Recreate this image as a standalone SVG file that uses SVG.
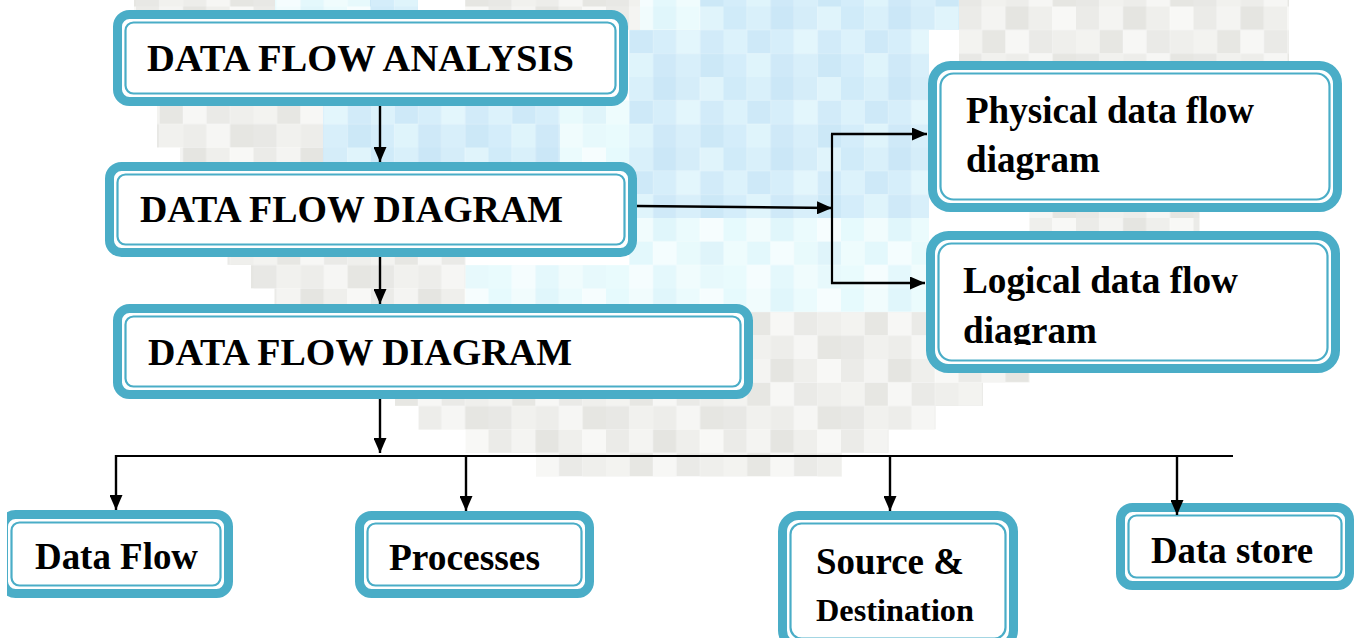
<svg xmlns="http://www.w3.org/2000/svg" width="1357" height="638" viewBox="0 0 1357 638">
<style>
.bg{fill:#ffffff}
.outer{fill:none;stroke:#4aadc7;stroke-width:9}
.inner{fill:none;stroke:#4aadc7;stroke-width:2.2}
.t{font-family:"Liberation Serif","Times New Roman",serif;font-weight:bold;font-size:38px;fill:#000}
.ln{stroke:#000;stroke-width:2.2;fill:none}
.ar{stroke:#000;stroke-width:2.4;fill:none;marker-end:url(#ah)}
</style>
<defs>
<marker id="ah" viewBox="0 0 15 13" markerWidth="15" markerHeight="13" refX="15" refY="6.5" orient="auto" markerUnits="userSpaceOnUse">
<path d="M0,0 L15,6.5 L0,13 z" fill="#000"/>
</marker>
<pattern id="pg" patternUnits="userSpaceOnUse" x="18.5" y="6.5" width="117.5" height="70.5">
<rect x="0" y="0" width="23.5" height="23.5" fill="#ebebe8"/><rect x="23.5" y="0" width="23.5" height="23.5" fill="#f4f4f2"/><rect x="47" y="0" width="23.5" height="23.5" fill="#e5e5e1"/><rect x="70.5" y="0" width="23.5" height="23.5" fill="#efefec"/><rect x="94" y="0" width="23.5" height="23.5" fill="#f8f8f6"/>
<rect x="0" y="23.5" width="23.5" height="23.5" fill="#f3f3f0"/><rect x="23.5" y="23.5" width="23.5" height="23.5" fill="#e7e7e3"/><rect x="47" y="23.5" width="23.5" height="23.5" fill="#f7f7f5"/><rect x="70.5" y="23.5" width="23.5" height="23.5" fill="#eaeae7"/><rect x="94" y="23.5" width="23.5" height="23.5" fill="#efefec"/>
<rect x="0" y="47" width="23.5" height="23.5" fill="#e8e8e5"/><rect x="23.5" y="47" width="23.5" height="23.5" fill="#f1f1ee"/><rect x="47" y="47" width="23.5" height="23.5" fill="#ededea"/><rect x="70.5" y="47" width="23.5" height="23.5" fill="#f6f6f4"/><rect x="94" y="47" width="23.5" height="23.5" fill="#e6e6e2"/>
</pattern>
<pattern id="pb" patternUnits="userSpaceOnUse" x="18.5" y="6.5" width="117.5" height="70.5">
<rect x="0" y="0" width="23.5" height="23.5" fill="#d0ebf9"/><rect x="23.5" y="0" width="23.5" height="23.5" fill="#d9f0fa"/><rect x="47" y="0" width="23.5" height="23.5" fill="#cbe7f7"/><rect x="70.5" y="0" width="23.5" height="23.5" fill="#d5edf9"/><rect x="94" y="0" width="23.5" height="23.5" fill="#e0f4fb"/>
<rect x="0" y="23.5" width="23.5" height="23.5" fill="#dcf2fb"/><rect x="23.5" y="23.5" width="23.5" height="23.5" fill="#cee9f8"/><rect x="47" y="23.5" width="23.5" height="23.5" fill="#d6eefa"/><rect x="70.5" y="23.5" width="23.5" height="23.5" fill="#e3f6fc"/><rect x="94" y="23.5" width="23.5" height="23.5" fill="#d2ebf9"/>
<rect x="0" y="47" width="23.5" height="23.5" fill="#d4edfa"/><rect x="23.5" y="47" width="23.5" height="23.5" fill="#dff4fb"/><rect x="47" y="47" width="23.5" height="23.5" fill="#cfe9f8"/><rect x="70.5" y="47" width="23.5" height="23.5" fill="#d8effa"/><rect x="94" y="47" width="23.5" height="23.5" fill="#cce8f7"/>
</pattern>
<pattern id="pc" patternUnits="userSpaceOnUse" x="18.5" y="6.5" width="117.5" height="70.5">
<rect x="0" y="0" width="23.5" height="23.5" fill="#e6fafd"/><rect x="23.5" y="0" width="23.5" height="23.5" fill="#f1fcfd"/><rect x="47" y="0" width="23.5" height="23.5" fill="#e0f6fb"/><rect x="70.5" y="0" width="23.5" height="23.5" fill="#ebfbfd"/><rect x="94" y="0" width="23.5" height="23.5" fill="#f6fdfe"/>
<rect x="0" y="23.5" width="23.5" height="23.5" fill="#eefcfd"/><rect x="23.5" y="23.5" width="23.5" height="23.5" fill="#e3f8fc"/><rect x="47" y="23.5" width="23.5" height="23.5" fill="#f4fdfe"/><rect x="70.5" y="23.5" width="23.5" height="23.5" fill="#e8fafc"/><rect x="94" y="23.5" width="23.5" height="23.5" fill="#dff4fa"/>
<rect x="0" y="47" width="23.5" height="23.5" fill="#e9fbfd"/><rect x="23.5" y="47" width="23.5" height="23.5" fill="#f5fdfe"/><rect x="47" y="47" width="23.5" height="23.5" fill="#e4f8fc"/><rect x="70.5" y="47" width="23.5" height="23.5" fill="#f0fcfd"/><rect x="94" y="47" width="23.5" height="23.5" fill="#e7f9fc"/>
</pattern>
<clipPath id="clipL"><rect x="900" y="220" width="457" height="125"/></clipPath>
<clipPath id="clipDF"><rect x="7" y="480" width="300" height="158"/></clipPath>
</defs>
<rect x="0" y="0" width="1357" height="638" fill="#ffffff"/>
<g id="watermark">
<rect x="134" y="0" width="141" height="30" fill="url(#pg)"/>
<rect x="465" y="0" width="175" height="30" fill="url(#pg)"/>
<rect x="959" y="0" width="330" height="61" fill="url(#pg)"/>
<rect x="157" y="100.5" width="166" height="47" fill="url(#pg)"/>
<rect x="180" y="147.5" width="143" height="23.5" fill="url(#pg)"/>
<rect x="227.5" y="241.5" width="238" height="23.5" fill="url(#pg)"/>
<rect x="251" y="265" width="214.5" height="23.5" fill="url(#pg)"/>
<rect x="274.5" y="288.5" width="191" height="23.5" fill="url(#pg)"/>
<rect x="747.5" y="312" width="188" height="70.5" fill="url(#pg)"/>
<rect x="1029.5" y="212" width="170" height="23.5" fill="url(#pg)"/>
<rect x="935.5" y="359" width="94" height="23.5" fill="url(#pg)"/>
<rect x="395" y="382.5" width="588" height="23.5" fill="url(#pg)"/>
<rect x="418.5" y="406" width="517" height="23.5" fill="url(#pg)"/>
<rect x="465.5" y="429.5" width="423" height="23.5" fill="url(#pg)"/>
<rect x="536" y="453" width="306" height="23.5" fill="url(#pg)"/>
<rect x="370" y="0" width="48" height="12" fill="url(#pb)"/>
<rect x="700" y="0" width="259" height="30" fill="url(#pb)"/>
<rect x="629" y="30" width="300" height="188" fill="url(#pb)"/>
<rect x="323" y="100.5" width="237" height="70.5" fill="url(#pb)"/>
<rect x="275" y="0" width="95" height="12" fill="url(#pc)"/>
<rect x="640" y="0" width="60" height="30" fill="url(#pc)"/>
<rect x="560" y="100.5" width="69" height="70.5" fill="url(#pc)"/>
<rect x="629" y="218" width="300" height="47" fill="url(#pc)"/>
<rect x="465.5" y="265" width="470" height="47" fill="url(#pc)"/>
</g>
<g id="connectors">
<line class="ar" x1="380" y1="106" x2="380" y2="162"/>
<line class="ar" x1="380" y1="257" x2="380" y2="304"/>
<line class="ar" x1="380" y1="399" x2="380" y2="453"/>
<line class="ar" x1="637" y1="206" x2="832" y2="208"/>
<line class="ln" x1="832" y1="134" x2="832" y2="284"/>
<line class="ar" x1="831" y1="134" x2="927" y2="134"/>
<line class="ar" x1="831" y1="283" x2="925" y2="283"/>
<line class="ln" x1="115" y1="456" x2="1233" y2="456"/>
<line class="ar" x1="116" y1="455" x2="116" y2="510"/>
<line class="ar" x1="466" y1="455" x2="466" y2="511"/>
<line class="ar" x1="890" y1="455" x2="890" y2="511"/>
</g>
<g id="n-analysis">
<rect class="bg" x="113" y="10" width="515" height="96" rx="16"/>
<rect class="outer" x="117.5" y="14.5" width="506" height="87" rx="12"/>
<rect class="inner" x="125.5" y="22.5" width="490" height="71" rx="8"/>
<text class="t" x="147" y="71" textLength="427" lengthAdjust="spacingAndGlyphs">DATA FLOW ANALYSIS</text>
</g>
<g id="n-dfd1">
<rect class="bg" x="105" y="162" width="532" height="95" rx="16"/>
<rect class="outer" x="109.5" y="166.5" width="523" height="86" rx="12"/>
<rect class="inner" x="117.5" y="174.5" width="507" height="70" rx="8"/>
<text class="t" x="140" y="222" textLength="423" lengthAdjust="spacingAndGlyphs">DATA FLOW DIAGRAM</text>
</g>
<g id="n-dfd2">
<rect class="bg" x="113" y="304" width="640" height="95" rx="16"/>
<rect class="outer" x="117.5" y="308.5" width="631" height="86" rx="12"/>
<rect class="inner" x="125.5" y="316.5" width="615" height="70" rx="8"/>
<text class="t" x="148" y="365" textLength="424" lengthAdjust="spacingAndGlyphs">DATA FLOW DIAGRAM</text>
</g>
<g id="n-physical">
<rect class="bg" x="928" y="61" width="414" height="151" rx="22"/>
<rect class="outer" x="932.5" y="65.5" width="405" height="142" rx="18"/>
<rect class="inner" x="940.5" y="73.5" width="389" height="126" rx="13"/>
<text class="t" x="966" y="123" textLength="288" lengthAdjust="spacingAndGlyphs">Physical data flow</text>
<text class="t" x="966" y="172" textLength="134" lengthAdjust="spacingAndGlyphs">diagram</text>
</g>
<g id="n-logical">
<rect class="bg" x="926" y="231" width="414" height="142" rx="22"/>
<rect class="outer" x="930.5" y="235.5" width="405" height="133" rx="18"/>
<rect class="inner" x="938.5" y="243.5" width="389" height="117" rx="13"/>
<g clip-path="url(#clipL)">
<text class="t" x="963" y="293" textLength="275" lengthAdjust="spacingAndGlyphs">Logical data flow</text>
<text class="t" x="963" y="343" textLength="134" lengthAdjust="spacingAndGlyphs">diagram</text>
</g>
</g>
<g id="n-dataflow">
<g clip-path="url(#clipDF)">
<rect class="bg" x="-1" y="510" width="234" height="88" rx="16"/>
<rect class="outer" x="3.5" y="514.5" width="225" height="79" rx="12"/>
<rect class="inner" x="11.5" y="522.5" width="209" height="63" rx="8"/>
</g>
<text class="t" x="35" y="569" textLength="163" lengthAdjust="spacingAndGlyphs">Data Flow</text>
</g>
<g id="n-processes">
<rect class="bg" x="355" y="511" width="239" height="87" rx="16"/>
<rect class="outer" x="359.5" y="515.5" width="230" height="78" rx="12"/>
<rect class="inner" x="367.5" y="523.5" width="214" height="62" rx="8"/>
<text class="t" x="389" y="570" textLength="151" lengthAdjust="spacingAndGlyphs">Processes</text>
</g>
<g id="n-source">
<rect class="bg" x="778" y="511" width="240" height="140" rx="20"/>
<rect class="outer" x="782.5" y="515.5" width="231" height="131" rx="16"/>
<rect class="inner" x="790.5" y="523.5" width="215" height="115" rx="11"/>
<text class="t" x="816" y="574" textLength="148" lengthAdjust="spacingAndGlyphs">Source &amp;</text>
<text class="t" x="816" y="621" style="font-size:31px" textLength="158" lengthAdjust="spacingAndGlyphs">Destination</text>
</g>
<g id="n-datastore">
<rect class="bg" x="1116" y="503" width="238" height="87" rx="16"/>
<rect class="outer" x="1120.5" y="507.5" width="229" height="78" rx="12"/>
<rect class="inner" x="1128.5" y="515.5" width="213" height="62" rx="8"/>
<text class="t" x="1151" y="563" textLength="162" lengthAdjust="spacingAndGlyphs">Data store</text>
</g>
<g id="connectors-top">
<line class="ar" x1="1177" y1="455" x2="1177" y2="515"/>
</g>
</svg>
